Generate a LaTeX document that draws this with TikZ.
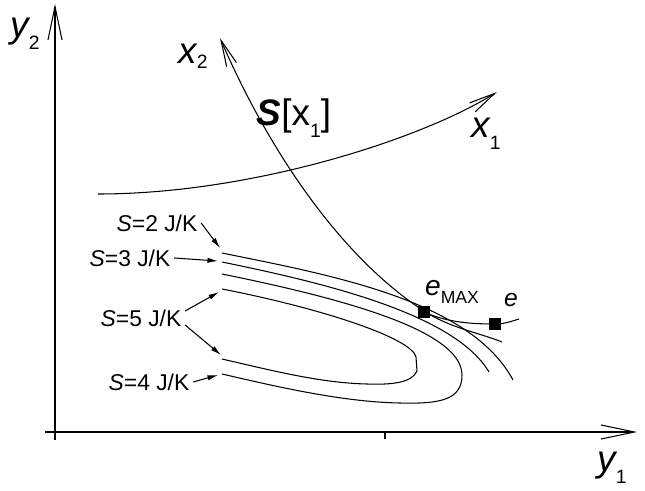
\documentclass[tikz,border=0pt]{standalone}
\usepackage{fontspec}
\setmainfont{Liberation Sans}
\usetikzlibrary{arrows.meta}
\newcommand{\lowsub}[2][7pt]{\raisebox{-#1}{\fontsize{11}{11}\selectfont\upshape #2}}
\newcommand{\axlab}[3][7pt]{{\fontsize{21}{24}\selectfont\itshape #2}\lowsub[#1]{#3}}
\tikzset{
  curve/.style={line width=0.6pt},
  axis/.style={line width=1pt,-{Straight Barb[length=19pt,width=8pt,line width=0.6pt]}},
  barb/.style={-{Straight Barb[length=15pt,width=6pt]}},
  lbl/.style={font=\fontsize{13}{15}\selectfont,inner sep=2pt},
  pin/.style={line width=0.6pt,-{Latex[length=6pt,width=3pt]}},
  sqr/.style={fill,minimum size=6.5pt,inner sep=0pt}
}

\begin{document}
\begin{tikzpicture}[x=0.02cm,y=-0.02cm]
\useasboundingbox (0,0) rectangle (645,490);
\draw[axis] (55,440) -- (55,4);
\draw[axis] (45,432) -- (637,432);
\draw[line width=1pt] (385,432) -- (385,439);
\node (ylab2) at (25,34) {\axlab{y}{2}};
\node (ylab1) at (612,468) {\axlab{y}{1}};
\node (xlab2) at (193,56) {\axlab[3pt]{x}{2}};
\node (xlab1) at (486,134) {\axlab{x}{1}};
\node (sx) at (294,118) {\fontsize{21}{24}\selectfont{\bfseries\itshape S}[x\lowsub{1}]};

\draw[curve,barb] (98,194) .. controls (250,194) and (420,140) .. (497,92);
\draw[curve,barb] (502,342) .. controls (480,333) and (450,328) .. (424,311)
  .. controls (345,260) and (272,158) .. (220,38);
\draw[curve] (424,312) .. controls (448,323) and (475,324) .. (495,324)
  .. controls (505,324) and (512,321) .. (519,319);

\draw[curve] (222,253) .. controls (330,275) and (470,300) .. (513,380);
\draw[curve] (222,262) .. controls (330,284) and (455,315) .. (489,372);
\draw[curve] (222,274) .. controls (340,298) and (462,330) .. (462,375)
  .. controls (462,400) and (440,404) .. (400,403)
  .. controls (340,402) and (270,385) .. (222,374);
\draw[curve] (222,289) .. controls (320,308) and (412,338) .. (416,357) -- (417,371)
  .. controls (412,382) and (395,385) .. (367,384)
  .. controls (320,383) and (270,370) .. (222,359);

\node[sqr] (emax) at (424,312) {};
\node[sqr] (epnt) at (495,324) {};
\node (emaxlab) at (452,292) {\fontsize{16}{18}\selectfont\itshape e\raisebox{-5pt}{\fontsize{10}{10}\selectfont\upshape MAX}};
\node (elab) at (511,300) {\fontsize{14}{16}\selectfont\itshape e};

\node[lbl] (s2) at (157,223) {\textit{S}=2 J/K};
\node[lbl] (s3) at (130,258) {\textit{S}=3 J/K};
\node[lbl] (s5) at (141,318) {\textit{S}=5 J/K};
\node[lbl] (s4) at (149,382) {\textit{S}=4 J/K};
\coordinate (c2) at (220,248);
\coordinate (c3) at (218,261);
\coordinate (c5a) at (219,292);
\coordinate (c5b) at (221,355);
\coordinate (c4) at (218,375);
\draw[pin] (s2.east) -- (c2);
\draw[pin] (s3.east) -- (c3);
\draw[pin] ([yshift=4pt]s5.east) -- (c5a);
\draw[pin] ([yshift=-4pt]s5.east) -- (c5b);
\draw[pin] (s4.east) -- (c4);
\end{tikzpicture}
\end{document}
